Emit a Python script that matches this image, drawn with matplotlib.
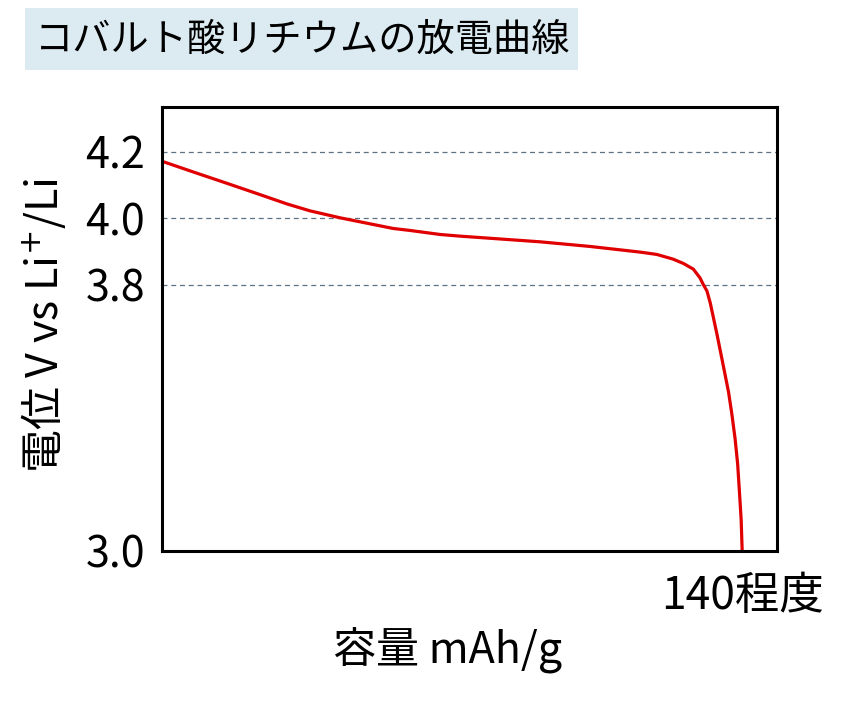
import matplotlib
matplotlib.use("Agg")
import matplotlib.pyplot as plt
from matplotlib.patches import Rectangle

plt.rcParams['font.family'] = ['Noto Sans CJK JP', 'DejaVu Sans']

# discharge curve (capacity mAh/g, potential V)
capacity = [0, 7.5, 15.6, 23.6, 30.1, 35.7, 43.0, 47.8, 55.8, 59.9, 67.1,
            71.9, 91.2, 103.3, 115.4, 119.4, 123.3, 125.8, 128.2, 129.8,
            130.6, 131.5, 132.3, 133.9, 135.1, 136.7, 137.5, 138.3, 138.9,
            139.3, 139.75, 140.0]
potential = [4.171, 4.139, 4.105, 4.071, 4.043, 4.022, 4.001, 3.989, 3.969,
             3.963, 3.951, 3.946, 3.929, 3.915, 3.898, 3.891, 3.877, 3.864,
             3.847, 3.821, 3.801, 3.781, 3.745, 3.652, 3.578, 3.478, 3.412,
             3.336, 3.262, 3.185, 3.094, 3.0]

y_ticks = [3.0, 3.8, 4.0, 4.2]
y_tick_labels = ['3.0', '3.8', '4.0', '4.2']
grid_levels = [3.8, 4.0, 4.2]
x_ticks = [140]
x_tick_labels = ['140程度']

title = 'コバルト酸リチウムの放電曲線'
xlabel = '容量 mAh/g'
ylabel = '電位 V vs Li$^{+}$/Li'

W, H = 851, 708
fig = plt.figure(figsize=(W / 100, H / 100), dpi=100)

# title box
fig.patches.append(Rectangle((25 / W, 1 - 70 / H), 553 / W, 62 / H,
                             transform=fig.transFigure, facecolor='#dcebf1',
                             edgecolor='none'))
fig.text(35 / W, 1 - 40 / H, title, fontsize=27.5, va='center', ha='left')

ax = fig.add_axes([162 / W, 1 - 551 / H, 615 / W, 444 / H])
ax.plot(capacity, potential, color='#e00000', lw=2.3, solid_joinstyle='round')

for g in grid_levels:
    ax.axhline(g, color='#5f7384', lw=0.9, ls=(0, (4, 3)), zorder=0)

ax.set_xlim(0, 148.4)
ax.set_ylim(3.0, 4.334)
ax.set_yticks(y_ticks)
ax.set_yticklabels(y_tick_labels)
ax.set_xticks(x_ticks)
ax.set_xticklabels(x_tick_labels)
ax.tick_params(length=0, labelsize=31, pad=12)
ax.tick_params(axis='x', labelsize=32, pad=16)

for s in ax.spines.values():
    s.set_linewidth(2.2)
    s.set_color('black')

fig.text(448 / W, 1 - 651 / H, xlabel, fontsize=31, ha='center', va='center')
fig.text(44 / W, 1 - 325 / H, ylabel, fontsize=31, ha='center', va='center',
         rotation=90)

fig.savefig('out.png', dpi=100)
